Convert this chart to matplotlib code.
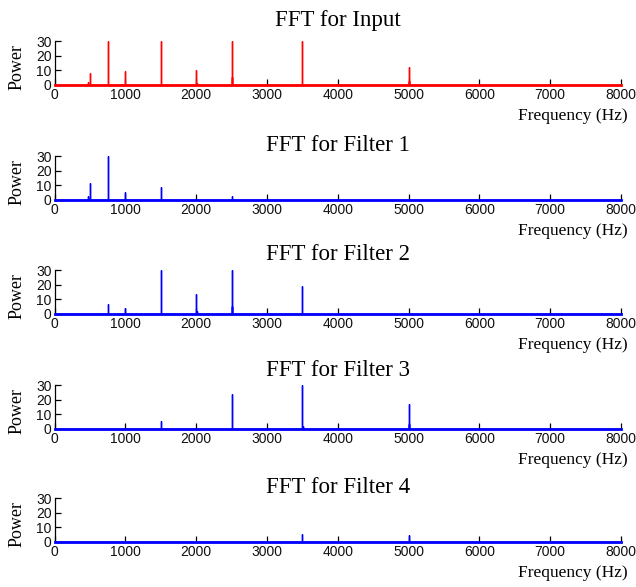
"""
Power spectra of the input signal and of the four band-pass filter outputs.
"""

import matplotlib.pyplot as plt

# Frequency axis span (Hz)
FREQ_MIN = 0
FREQ_MAX = 8000

# Spectral peaks of each signal: frequency (Hz) and power
input_freqs = [480, 500, 750, 1000, 1500, 2000, 2010, 2500, 2510, 3500, 5000, 5010]
input_power = [2.3, 8.4, 30, 9.5, 30, 10.2, 1.5, 30, 5.5, 30, 12.5, 3.0]

filter1_freqs = [480, 500, 750, 1000, 1500, 2500]
filter1_power = [2.7, 11.7, 30, 5.2, 9.0, 2.7]

filter2_freqs = [750, 1000, 1500, 2000, 2010, 2500, 2510, 3500]
filter2_power = [6.9, 3.9, 30, 13.9, 2.0, 30, 5.5, 18.9]

filter3_freqs = [1500, 2500, 3500, 3510, 5000, 5010]
filter3_power = [5.4, 23.9, 30, 2.0, 16.9, 3.6]

filter4_freqs = [3500, 5000]
filter4_power = [5.5, 5.0]

titles = ["FFT for Input", "FFT for Filter 1", "FFT for Filter 2",
          "FFT for Filter 3", "FFT for Filter 4"]
colors = ["#ff0000", "#0000ff", "#0000ff", "#0000ff", "#0000ff"]

SERIF = ["Liberation Serif", "DejaVu Serif"]
SANS = ["Liberation Sans", "DejaVu Sans"]


def spectrum_trace(freqs, power):
    """Turn a list of peaks into a line trace that sits on the zero floor."""
    xs, ys = [FREQ_MIN], [0.0]
    for f, p in zip(freqs, power):
        xs += [f, f, f]
        ys += [0.0, p, 0.0]
    xs.append(FREQ_MAX)
    ys.append(0.0)
    return xs, ys


def plot_spectra(dest_path="out.png"):
    fig = plt.figure(figsize=(6.36, 5.87), dpi=100)

    # Axes rectangles in figure fractions: [left, bottom, width, height]
    left, width, height = 0.0857, 0.8907, 0.0745
    bottoms = [0.8552, 0.6593, 0.4651, 0.2692, 0.0767]
    title_pads = [11, 4, 7.5, 7, 3.5]

    data = [
        (input_freqs, input_power),
        (filter1_freqs, filter1_power),
        (filter2_freqs, filter2_power),
        (filter3_freqs, filter3_power),
        (filter4_freqs, filter4_power),
    ]

    for bottom, (freqs, power), title, color, tpad in zip(
        bottoms, data, titles, colors, title_pads
    ):
        ax = fig.add_axes([left, bottom, width, height])
        xs, ys = spectrum_trace(freqs, power)
        ax.plot(xs, ys, color=color, linewidth=1.0, solid_joinstyle="miter")
        # thick noise floor laid over the bottom spine
        ax.plot([xs[0], xs[-1]], [ys[0], ys[-1]], color=color, linewidth=2.0,
                clip_on=False, zorder=3)

        ax.set_xlim(FREQ_MIN, FREQ_MAX)
        ax.set_ylim(0, 30)
        ax.set_xticks(range(0, 8001, 1000))
        ax.set_yticks([0, 10, 20, 30])

        for side in ("top", "right"):
            ax.spines[side].set_visible(False)
        for side in ("left", "bottom"):
            ax.spines[side].set_linewidth(0.9)
            ax.spines[side].set_zorder(0)

        ax.tick_params(direction="in", length=4, width=0.9, pad=2)
        for lab in ax.get_xticklabels() + ax.get_yticklabels():
            lab.set_family(SANS)
            lab.set_fontsize(10)
            lab.set_color("#111111")

        ax.set_title(title, family=SERIF, fontsize=16.5, pad=tpad)
        ax.set_ylabel("Power", family=SERIF, fontsize=13)
        ax.yaxis.set_label_coords(-0.052, 0.42)
        ax.set_xlabel("Frequency (Hz)", family=SERIF, fontsize=12.5, loc="right")
        ax.xaxis.set_label_coords(1.012, -0.52)

    fig.savefig(dest_path, dpi=100)
    plt.close(fig)


if __name__ == "__main__":
    plot_spectra()
